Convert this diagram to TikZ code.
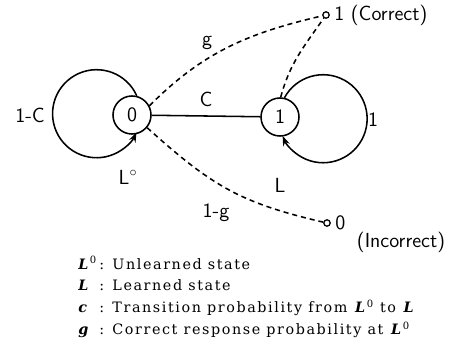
\documentclass[tikz,border=0pt]{standalone}
\usepackage{fontspec}
\usepackage{tikz}
\usetikzlibrary{arrows.meta,positioning,calc}
\newfontfamily\legendfont[LetterSpace=11]{DejaVu Serif}
\newcommand{\drawfont}{\sffamily\fontsize{14.5}{17}\selectfont}
\newcommand{\sym}[1]{\textbf{\textit{#1}}}

\begin{document}
\begin{tikzpicture}[x=0.025cm, y=0.025cm, >={Stealth[length=7pt,width=5pt]}, font=\drawfont,
    statenode/.style={draw, circle, line width=1.1pt, minimum size=0.95cm, inner sep=0pt},
    endpoint/.style={draw, circle, line width=0.9pt, minimum size=0.16cm, inner sep=0pt},
    trans/.style={line width=1.1pt},
    resp/.style={line width=1.1pt, dash pattern=on 3.6pt off 2.8pt}]
    \useasboundingbox (0,0) rectangle (465,345);

    % states
    \node[statenode] (n0) at (132,230) {0};
    \node[statenode] (n1) at (280,228) {1};
    \node (l0) at (128,168) {L$^{\circ}$};
    \node (l1) at (280,160) {L};

    % responses
    \node[endpoint] (ok) at (326,330) {};
    \node[endpoint] (bad) at (327,122) {};
    \node[right=2pt of ok, inner sep=1pt] (oktext) {1 (Correct)};
    \node[right=2pt of bad, inner sep=1pt] (badtext) {0};
    \node (badnote) at (401,103) {(Incorrect)};

    % transitions
    \draw[trans] (n0) -- node[above=3pt] (c) {C} (n1);
    \draw[trans,->] (n0.76) arc[start angle=24, end angle=335, radius=1.1cm];
    \draw[trans,->] (n1.77) arc[start angle=151.5, end angle=-157, radius=1.1cm];
    \node (stay) at (30,230) {1-C};
    \node (keep) at (373,225) {1};

    \draw[resp] (n0.28) to[out=45, in=193] (ok);
    \draw[resp] (n1.88) to[out=75, in=235] (ok);
    \draw[resp] (n0.-40) to[out=-42, in=167, looseness=1.1] (bad);
    \node (g) at (207,302) {g};
    \node (ng) at (216,132) {1-g};

    % legend
    \node[anchor=base west, inner sep=0pt] (legend) at (78,76) {\legendfont\fontsize{10.2}{15.6}\selectfont
    \begin{tabular}[t]{@{}l@{\,}l@{}}
    \sym{L}\textsuperscript{0} & : Unlearned state\\
    \sym{L} & : Learned state\\
    \sym{c} & : Transition probability from \sym{L}\textsuperscript{0} to \sym{L}\\
    \sym{g} & : Correct response probability at \sym{L}\textsuperscript{0}
    \end{tabular}};
\end{tikzpicture}
\end{document}
